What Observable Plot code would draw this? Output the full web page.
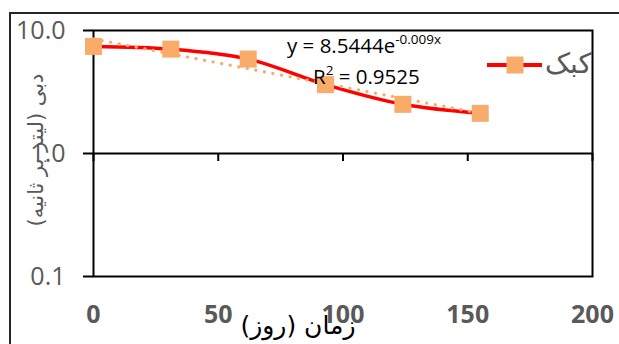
<!DOCTYPE html>
<html>
<head>
<meta charset="utf-8">
<script src="https://cdn.jsdelivr.net/npm/d3@7"></script>
<script src="https://cdn.jsdelivr.net/npm/@observablehq/plot@0.6"></script>
<style>
  html, body { margin: 0; padding: 0; background: #fff; }
  #wrap { position: relative; width: 619px; height: 344px; overflow: hidden; font-family: "Open Sans", sans-serif; }
  #border { position: absolute; left: 9px; top: 12px; width: 800px; height: 600px; border: 2px solid #262626; box-sizing: border-box; }
  #chart { position: absolute; left: 0; top: 0; }
  #overlay { position: absolute; left: 0; top: 0; pointer-events: none; }
</style>
</head>
<body>
<div id="wrap">
  <div id="border"></div>
  <div id="chart"></div>
  <svg id="overlay" width="619" height="344"></svg>
</div>
<script>
// ---- data ----
const days = [0, 31, 62, 93, 124, 155];
const flow = [7.42, 7.06, 5.86, 3.63, 2.51, 2.12];
const trendDays = [0, 155];
const trendFlow = [8.54, 2.12];
const xTicks = [0, 50, 100, 150, 200];
const yTicks = [0.1, 1, 10];
const seriesName = "کبک";
const xLabel = "زمان (روز)";
const yLabel = "دبی (لیتر بر ثانیه)";
const eqText = "y = 8.5444e";
const eqExp = "-0.009x";
const r2Text = "= 0.9525";

const red = "#FF0000";
const orange = "#F9AC6A";
const gray = "#595959";
const RLM = "\u200F";

const series = days.map((d, i) => ({x: d, y: flow[i]}));
const trend = trendDays.map((d, i) => ({x: d, y: trendFlow[i]}));

const plot = Plot.plot({
  width: 619,
  height: 344,
  marginLeft: 93,
  marginRight: 27,
  marginTop: 30,
  marginBottom: 68,
  style: {fontFamily: "'Open Sans', sans-serif", color: "black", background: "transparent"},
  x: {domain: [0, 200]},
  y: {type: "log", domain: [0.1, 10]},
  marks: [
    Plot.frame({stroke: "black", strokeWidth: 2}),
    Plot.ruleY([1], {stroke: "black", strokeWidth: 2}),
    Plot.ruleX(xTicks, {x: d => d, y1: 1, y2: 1, insetBottom: -8, stroke: "black", strokeWidth: 2}),
    Plot.axisY({ticks: yTicks, tickSize: 10, tickPadding: 18, tickFormat: d => d.toFixed(1),
      fontSize: 25, fill: gray, stroke: "black", strokeWidth: 2, label: null}),
    Plot.axisX({ticks: xTicks, tickSize: 0, tickPadding: 29, tickFormat: d => String(d),
      fontSize: 25, fontWeight: "bold", fill: gray, label: null}),
    Plot.line(series, {x: "x", y: "y", stroke: red, strokeWidth: 3.5, curve: "catmull-rom"}),
    Plot.dot(series, {x: "x", y: "y", symbol: "square", r: 9.6, fill: orange, stroke: null}),
    Plot.line(trend, {x: "x", y: "y", stroke: orange, strokeWidth: 3.2, strokeDasharray: "0.1 8.6", strokeLinecap: "round"})
  ]
});
document.getElementById("chart").appendChild(plot);

// ---- annotations: axis titles, legend, trendline label ----
const ov = d3.select("#overlay");
ov.append("text")
  .attr("transform", "translate(37,150) rotate(-90)")
  .attr("text-anchor", "middle")
  .attr("dominant-baseline", "middle")
  .attr("font-family", "'DejaVu Sans', sans-serif")
  .attr("font-size", 21)
  .attr("fill", gray)
  .text(yLabel + RLM);

ov.append("text")
  .attr("x", 298).attr("y", 334)
  .attr("text-anchor", "middle")
  .attr("font-family", "'DejaVu Sans', sans-serif")
  .attr("font-size", 25)
  .attr("fill", "black")
  .text(xLabel + RLM);

// legend
ov.append("line").attr("x1", 487).attr("x2", 542).attr("y1", 65).attr("y2", 65)
  .attr("stroke", red).attr("stroke-width", 4);
ov.append("rect").attr("x", 506.5).attr("y", 56.5).attr("width", 17).attr("height", 17).attr("fill", orange);
ov.append("text").attr("x", 545).attr("y", 73)
  .attr("font-family", "'DejaVu Sans', sans-serif")
  .attr("font-size", 28)
  .attr("fill", gray)
  .text(seriesName);

// trendline label
const eq = ov.append("text").attr("x", 287).attr("y", 53)
  .attr("font-family", "'Open Sans', sans-serif").attr("font-size", 20.5).attr("fill", "black");
eq.append("tspan").text(eqText);
eq.append("tspan").attr("font-size", 13.5).attr("dy", -9).text(eqExp);
const r2 = ov.append("text").attr("x", 313).attr("y", 84)
  .attr("font-family", "'Open Sans', sans-serif").attr("font-size", 20.5).attr("fill", "black");
r2.append("tspan").text("R");
r2.append("tspan").attr("font-size", 13.5).attr("dy", -9).text("2");
r2.append("tspan").attr("dy", 9).text(" " + r2Text);
</script>
</body>
</html>
